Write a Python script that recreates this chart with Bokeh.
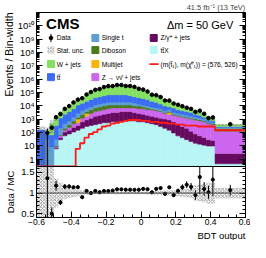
import numpy as np
from bokeh.plotting import figure
from bokeh.layouts import column
from bokeh.models import (Range1d, LogAxis, LinearAxis, FixedTicker,
                          CustomJSTickFormatter, Span, Title)
from bokeh.embed import file_html
from bokeh.resources import INLINE
from bokeh.core.properties import value

FONT = "Liberation Sans"
nan = float("nan")

# ---------------- data ----------------
bin_edges = np.append(np.round(np.arange(-0.6, 0.4251, 0.025), 4), 0.6)

ttx = [0, 0, 0, 0, 5.9, 29, 56, 77, 107, 147,
       203, 280, 329, 387, 454, 534, 534, 627, 627, 736,
       736, 736, 736, 627, 627, 534, 454, 387, 280, 203,
       147, 91, 56, 41, 29, 21, 15.5, 13.2, 11.2, 9.5,
       9.5, 0.45]
zgamma = [0, 0, 0, 0, 1.0, 12, 51, 70, 132, 182,
          424, 585, 861, 1260, 1490, 1770, 2170, 2470, 2470, 2960,
          2960, 2960, 2360, 2070, 1670, 1410, 1200, 1010, 910, 817,
          718, 536, 398, 239, 174, 104, 61, 43, 30, 19.5,
          15.5, 2.15]
znunu = [0, 0, 0, 0, 1.2, 15, 40, 92, 215, 205,
         563, 785, 1510, 2050, 2360, 2800, 3300, 3900, 3900, 3300,
         3300, 3300, 3900, 3300, 3700, 3160, 3450, 2900, 2510, 1680,
         1435, 1310, 1200, 1120, 987, 895, 788, 680, 586, 425,
         362, 122]
multijet = [0, 0, 0, 0, 0, 0, 0, 0, 0, 486,
            0, 1050, 0, 0, 0, 0, 0, 0, 0, 0,
            0, 0, 0, 0, 0, 0, 0, 0, 0, 0,
            800, 0, 0, 0, 0, 0, 0, 0, 0, 0,
            0, 0]
diboson = [0, 0, 0, 0, 1.4, 10, 56, 148, 282, 380,
           1110, 1000, 2400, 3300, 3900, 4600, 5400, 4400, 4400, 4400,
           4400, 4400, 2700, 3700, 2200, 1900, 900, 800, 600, 400,
           600, 360, 290, 250, 210, 170, 155, 129, 109, 80,
           67, 78]
single_t = [0, 0, 30, 8, 20, 137, 250, 350, 664, 1300,
            2000, 2300, 3100, 4400, 5200, 6000, 7100, 7100, 7100, 7100,
            7100, 7100, 6000, 3700, 3200, 2700, 2200, 1900, 1700, 1200,
            1400, 800, 760, 650, 540, 460, 380, 325, 284, 93,
            80, 36]
ttbar = [150, 150, 40, 58, 300, 990, 1850, 2960, 4600, 8700,
         11400, 15700, 21800, 29600, 34600, 41300, 48500, 48500, 48500, 48500,
         48500, 38500, 32300, 27600, 23600, 20300, 13500, 11500, 7400, 5400,
         3100, 3900, 2400, 2000, 1760, 1450, 900, 750, 380, 238,
         202, 41]
wjets = [0, 0, 0, 388, 860, 1900, 2800, 4500, 9700, 14100,
         25300, 45300, 78000, 109000, 128000, 186000, 218000, 218000, 267000, 267000,
         218000, 228000, 195000, 135000, 115000, 78000, 45300, 38500, 27600, 15800,
         13500, 8700, 6300, 3900, 2300, 2000, 1400, 1160, 900, 325,
         284, 107]
data = [nan, nan, 95, 227, 1400, 2390, 5900, 9500, 17900, 29100,
        36900, 70400, 108000, 157500, 179500, 255000, 299000, 302000, 364000, 364000,
        308000, 308000, 262000, 190000, 165000, 118000, 68300, 62700, 45900, 25000,
        24700, 14900, 12000, 9350, 7200, 5870, 3520, 4300, 2530, 1210,
        1350, 414]
data_rel_err = [0, 0, 1.0, 0.3, 0.1, 0.08, 0.05, 0.04, 0.03, 0.03,
                0.03, 0.02, 0.02, 0.02, 0.02, 0.02, 0.02, 0.02, 0.02, 0.02,
                0.02, 0.02, 0.02, 0.02, 0.02, 0.02, 0.03, 0.03, 0.03, 0.03,
                0.03, 0.05, 0.05, 0.06, 0.07, 0.08, 0.12, 0.30, 0.15, 0.15,
                0.30, 0.12]
mc_rel_unc = [0.7, 1.0, 2.4, 0.8, 0.35, 0.25, 0.15, 0.12, 0.10, 0.08,
              0.06, 0.05, 0.04, 0.03, 0.03, 0.03, 0.03, 0.03, 0.03, 0.03,
              0.03, 0.03, 0.03, 0.03, 0.03, 0.04, 0.04, 0.05, 0.05, 0.06,
              0.06, 0.07, 0.08, 0.09, 0.10, 0.12, 0.18, 0.20, 0.22, 0.25,
              0.25, 0.13]
signal = [0, 0, 0, 0, 0, 0, 0, 0, 0, 5.9,
          15.5, 41, 77, 107, 173, 280, 329, 454, 534, 627,
          736, 865, 865, 865, 736, 736, 627, 627, 534, 534,
          454, 454, 387, 387, 329, 329, 329, 280, 280, 280,
          280, 147]

processes = [
    ("tt\u0304X", ttx, "#b8f5f5"),
    ("Z/\u03b3* + jets", zgamma, "#650a5f"),
    ("Z \u2192 \u03bd\u03bd\u0304 + jets", znunu, "#cc66ee"),
    ("Multijet", multijet, "#f9b308"),
    ("Diboson", diboson, "#4c7a1a"),
    ("Single t", single_t, "#5f9fd0"),
    ("tt\u0304", ttbar, "#3a6cf4"),
    ("W + jets", wjets, "#84e060"),
]

# ---------------- helpers ----------------
YMIN, YMAX = 0.28, 1e11
FLOOR = 1e-3
left = bin_edges[:-1]
right = bin_edges[1:]
centers = 0.5 * (left + right)
data_a = np.array(data, dtype=float)

sup = "return (function(t){const s={'0':'\u2070','1':'\u00b9','2':'\u00b2','3':'\u00b3','4':'\u2074','5':'\u2075','6':'\u2076','7':'\u2077','8':'\u2078','9':'\u2079'};" \
      "const e=Math.round(Math.log10(t)); if(e==0) return '1'; if(e==1) return '10';" \
      "return '10'+String(e).split('').map(c=>s[c]).join('');})(tick);"
empty_fmt = CustomJSTickFormatter(code="return '';")


def style_axis(ax, fs="9.5px", lfs="10.5px"):
    ax.major_tick_in = 6
    ax.major_tick_out = 0
    ax.minor_tick_in = 3
    ax.minor_tick_out = 0
    ax.axis_line_color = "black"
    ax.major_tick_line_color = "black"
    ax.minor_tick_line_color = "black"
    ax.major_label_text_font = FONT
    ax.major_label_text_font_size = fs
    ax.major_label_text_color = "black"
    ax.axis_label_text_font = FONT
    ax.axis_label_text_font_style = "normal"
    ax.axis_label_text_font_size = lfs
    ax.axis_label_text_color = "black"
    ax.major_label_standoff = 2
    ax.axis_label_standoff = 2


def side_title(text, align, size):
    return Title(text=text, align=align, text_font=FONT, text_font_size=size,
                 text_font_style="normal", text_color="black", standoff=0, offset=0)


# ---------------- top panel ----------------
top = figure(width=250, height=166, x_range=Range1d(-0.6, 0.6),
             y_range=Range1d(YMIN, YMAX), y_axis_type="log",
             output_backend="svg", toolbar_location=None,
             min_border_left=34, min_border_right=5, min_border_top=0,
             min_border_bottom=0)
top.title.text = "41.5 fb\u207b\u00b9 (13 TeV)"
top.title.align = "right"
top.title.text_font = FONT
top.title.text_font_size = "7.5px"
top.title.text_font_style = "normal"
top.title.standoff = 1
top.xgrid.visible = False
top.ygrid.visible = False
top.xaxis.visible = False
top.outline_line_color = "black"
top.background_fill_color = "white"

log_ticker = FixedTicker(ticks=[10.0 ** k for k in range(0, 11)],
                         minor_ticks=[m * 10.0 ** k for k in range(-1, 11) for m in range(2, 10)])
ya = top.yaxis[0]
ya.ticker = log_ticker
ya.formatter = CustomJSTickFormatter(code=sup)
style_axis(ya)
ra = LogAxis(ticker=log_ticker, formatter=empty_fmt)
style_axis(ra)
ra.major_label_standoff = 0
top.add_layout(ra, "right")
# y-axis title, aligned to the top of the panel (as in the reference)
top.add_layout(side_title("Events / Bin-width", "right", "10.5px"), "left")

cum = np.zeros(len(centers))
for name, vals, color in processes:
    v = np.array(vals, dtype=float)
    new = cum + v
    m = v > 0
    top.quad(left=left[m], right=right[m], bottom=np.maximum(cum, FLOOR)[m],
             top=new[m], fill_color=color, line_color=color, line_width=0.5)
    cum = new
total = cum

unc = np.array(mc_rel_unc)
top.quad(left=left, right=right, bottom=np.maximum(total * (1 - unc), FLOOR),
         top=total * (1 + unc), fill_color=None, line_color=None,
         hatch_pattern="diagonal_cross", hatch_color="#555555",
         hatch_scale=3.5, hatch_weight=0.6)

sig = np.maximum(np.array(signal, dtype=float), YMIN * 1.02)
top.step(x=np.append(left, right[-1]), y=np.append(sig, sig[-1]), mode="after",
         line_color="#ff1a1a", line_width=1.8)

derr = data_a * np.array(data_rel_err)
top.segment(x0=centers, y0=np.maximum(data_a - derr, FLOOR), x1=centers,
            y1=data_a + derr, line_color="black", line_width=1)
top.scatter(x=centers, y=data_a, size=3.6, color="black")

# texts
top.text(x=[-0.545], y=[10 ** 10.14], text=["CMS"], text_font=value(FONT),
         text_font_size="15px", text_font_style="bold", text_baseline="middle",
         text_color="black")
top.text(x=[0.53], y=[10 ** 10.05], text=["\u0394m = 50 GeV"], text_font=value(FONT),
         text_font_size="11px", text_align="right", text_baseline="middle",
         text_color="black")

rows = [9.09, 8.18, 7.13, 6.15]
hb = 0.26
col_box = [-0.537, -0.282, 0.053]
col_txt = [-0.484, -0.226, 0.112]
box_w = 0.04
legend_boxes = [  # (col, row, color)
    (1, 0, "#5f9fd0"), (2, 0, "#650a5f"),
    (1, 1, "#4c7a1a"), (2, 1, "#b8f5f5"),
    (0, 2, "#84e060"), (1, 2, "#f9b308"),
    (0, 3, "#3a6cf4"), (1, 3, "#cc66ee"),
]
for c, r, color in legend_boxes:
    top.quad(left=[col_box[c]], right=[col_box[c] + box_w],
             bottom=[10 ** (rows[r] - hb)], top=[10 ** (rows[r] + hb)],
             fill_color=color, line_color=color)
top.quad(left=[col_box[0]], right=[col_box[0] + box_w],
         bottom=[10 ** (rows[1] - hb)], top=[10 ** (rows[1] + hb)],
         fill_color=None, line_color=None, hatch_pattern="diagonal_cross",
         hatch_color="#555555", hatch_scale=3.5, hatch_weight=0.6)
mx = col_box[0] + box_w / 2
top.segment(x0=[mx], y0=[10 ** (rows[0] - 0.3)], x1=[mx], y1=[10 ** (rows[0] + 0.3)],
            line_color="black", line_width=1)
top.scatter(x=[mx], y=[10 ** rows[0]], size=3.6, color="black")
top.line(x=[col_box[2] - 0.004, col_box[2] + box_w + 0.008], y=[10 ** rows[2]] * 2,
         line_color="#ff1a1a", line_width=1.8)

legend_texts = [
    (0, 0, "Data"), (1, 0, "Single t"), (2, 0, "Z/\u03b3* + jets"),
    (0, 1, "Stat. unc."), (1, 1, "Diboson"), (2, 1, "tt\u0304X"),
    (0, 2, "W + jets"), (1, 2, "Multijet"),
    (2, 2, "(m(t\u0303\u2081), m(\u03c7\u0303\u2070\u2081)) = (576, 526)"),
    (0, 3, "tt\u0304"), (1, 3, "Z \u2192 \u03bd\u03bd\u0304 + jets"),
]
top.text(x=[col_txt[c] for c, r, t in legend_texts],
         y=[10 ** rows[r] for c, r, t in legend_texts],
         text=[t for c, r, t in legend_texts], text_font=value(FONT),
         text_font_size="6.6px", text_baseline="middle", text_color="black")

# ---------------- ratio panel ----------------
bot = figure(width=250, height=74, x_range=top.x_range,
             y_range=Range1d(0.41, 1.64),
             output_backend="svg", toolbar_location=None,
             min_border_left=34, min_border_right=5, min_border_top=0,
             min_border_bottom=0)
bot.xgrid.visible = False
bot.ygrid.visible = False
bot.outline_line_color = "black"

bot.quad(left=left, right=right, bottom=1 - unc, top=1 + unc, fill_color=None,
         line_color=None, hatch_pattern="diagonal_cross", hatch_color="#555555",
         hatch_scale=3.5, hatch_weight=0.6)
bot.add_layout(Span(location=1.0, dimension="width", line_color="#444444", line_width=1))

ratio = data_a / total
rerr = ratio * np.array(data_rel_err)
bot.segment(x0=centers, y0=ratio - rerr, x1=centers, y1=ratio + rerr,
            line_color="black", line_width=1)
bot.scatter(x=centers, y=ratio, size=3.2, color="black")

xa = bot.xaxis[0]
xa.ticker = FixedTicker(ticks=[-0.6, -0.4, -0.2, 0.0, 0.2, 0.4, 0.6],
                        minor_ticks=[round(-0.6 + 0.05 * i, 3) for i in range(25)])
xa.formatter = CustomJSTickFormatter(
    code="if (Math.abs(tick) < 1e-9) return '0'; return tick.toFixed(1).replace('-', '\u2212');")
style_axis(xa, "8.5px", "9.5px")
xa.major_label_standoff = 1
# x-axis title, right-aligned below the axis (as in the reference)
bot.add_layout(side_title("BDT output", "right", "9.5px"), "below")

yb = bot.yaxis[0]
yb.ticker = FixedTicker(ticks=[0.5, 1.0, 1.5],
                        minor_ticks=[round(0.4 + 0.1 * i, 2) for i in range(14)])
yb.formatter = CustomJSTickFormatter(code="return String(Math.round(tick * 10) / 10);")
yb.axis_label = "Data / MC"
style_axis(yb, "9.5px", "9.5px")
rb = LinearAxis(ticker=yb.ticker, formatter=empty_fmt)
style_axis(rb)
rb.major_label_standoff = 0
bot.add_layout(rb, "right")

layout = column(top, bot, spacing=0)
open("out.html", "w").write(file_html(layout, INLINE))
